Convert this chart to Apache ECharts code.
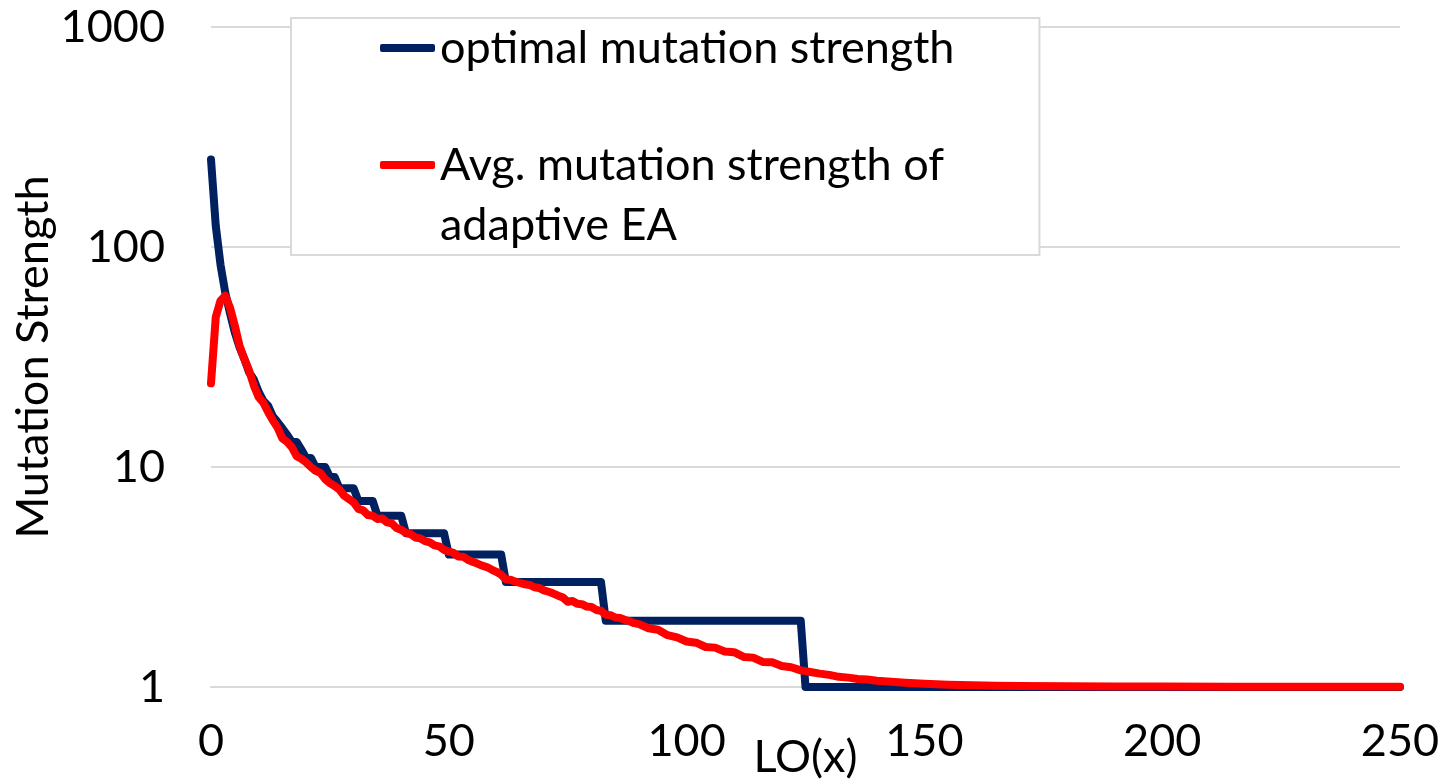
<!DOCTYPE html>
<html>
<head>
<meta charset="utf-8">
<script src="https://cdn.jsdelivr.net/npm/echarts@6/dist/echarts.min.js"></script>
<style>
  html, body { margin: 0; padding: 0; background: #fff; }
  #chart { width: 1439px; height: 781px; }
</style>
</head>
<body>
<div id="chart"></div>
<script>
// Optimal mutation strength: step function over LO(x), given at its breakpoints
const optLO  = [0,1,2,3,4,5,6,7,8,9,10,11,12,13,14,15,16,17,18,19,20,21,22,24,25,26,27,30,31,34,35,40,41,49,50,61,62,82,83,124,125,250];
const optVal = [250,125,83,62,50,41,35,31,27,25,22,20,19,17,16,15,14,13,13,12,11,11,10,10,9,9,8,8,7,7,6,6,5,5,4,4,3,3,2,2,1,1];

// Average mutation strength observed for the adaptive EA
const avgLO = [0,1,2,3,4,5,6,7,8,9,10,11,12,13,14,15,16,17,18,19,20,21,22,23,24,25,26,27,28,29,30,
  31,32,33,34,35,36,37,38,39,40,41,42,43,44,45,46,47,48,49,50,51,52,53,54,55,56,57,58,59,60,
  61,62,63,64,65,66,67,68,69,70,71,72,73,74,75,76,77,78,79,80,81,82,83,84,85,86,87,88,89,90,
  92,94,96,98,100,102,104,106,108,110,112,114,116,118,120,122,124,126,128,130,132,134,136,138,140,
  143,146,150,155,160,165,170,180,190,200,215,230,250];
const avgVal = [24,48,57,60,53,44,35.5,31,27.5,23.5,20.8,19.6,17.8,16.3,15.1,13.5,13.0,12.3,11.2,10.9,10.5,10.0,9.6,9.4,8.8,8.45,8.2,7.9,7.4,7.15,6.9,
  6.45,6.35,6.05,6.0,5.8,5.84,5.6,5.55,5.28,5.18,5.02,4.95,4.78,4.74,4.6,4.54,4.4,4.36,4.2,4.13,4.07,3.92,3.91,3.79,3.71,3.64,3.56,3.51,3.42,3.34,
  3.24,3.08,3.07,3.01,2.97,2.93,2.91,2.84,2.82,2.75,2.71,2.66,2.6,2.55,2.44,2.46,2.39,2.38,2.32,2.31,2.24,2.22,2.13,2.12,2.07,2.06,2.02,1.99,1.95,1.93,
  1.85,1.82,1.72,1.68,1.61,1.59,1.52,1.51,1.45,1.44,1.37,1.36,1.3,1.295,1.245,1.23,1.19,1.17,1.15,1.135,1.112,1.103,1.088,1.082,1.068,
  1.056,1.045,1.035,1.025,1.018,1.013,1.01,1.007,1.005,1.004,1.003,1.002,1.002];

const xTicks = { min: 0, max: 250, step: 50 };
const nameOpt = 'optimal mutation strength';
const nameAvg = 'Avg. mutation strength of adaptive EA';

const FONT = 'Lato, "Open Sans", sans-serif';
const GRID = '#d9d9d9';

const chart = echarts.init(document.getElementById('chart'), null, { renderer: 'canvas' });

chart.setOption({
  backgroundColor: '#fff',
  animation: false,
  textStyle: { fontFamily: FONT },
  grid: { left: 211, right: 39, top: 27, bottom: 94, containLabel: false, outerBoundsMode: 'none' },
  legend: {
    orient: 'vertical',
    left: 291,
    top: 18,
    padding: [0, 85, 0, 89],
    itemGap: -3,
    itemWidth: 55,
    itemHeight: 8,
    icon: 'roundRect',
    backgroundColor: '#fff',
    borderColor: GRID,
    borderWidth: 2,
    selectedMode: false,
    textStyle: { fontSize: 45, fontFamily: FONT, color: '#000', lineHeight: 60 },
    formatter: function (name) {
      return name === nameAvg ? '\nAvg. mutation strength of\nadaptive EA' : name;
    },
    data: [nameOpt, nameAvg]
  },
  xAxis: {
    type: 'value',
    min: xTicks.min,
    max: xTicks.max,
    interval: xTicks.step,
    name: 'LO(x)',
    nameLocation: 'middle',
    nameGap: 48,
    nameMoveOverlap: false,
    nameTextStyle: { fontSize: 45, color: '#000', fontFamily: FONT },
    axisLine: { show: true, lineStyle: { color: GRID, width: 2 } },
    axisTick: { show: false },
    splitLine: { show: false },
    axisLabel: { fontSize: 45, color: '#000', margin: 32, fontFamily: FONT }
  },
  yAxis: {
    type: 'log',
    logBase: 10,
    min: 1,
    max: 1000,
    name: 'Mutation Strength',
    nameLocation: 'middle',
    nameGap: 155,
    nameMoveOverlap: false,
    nameTextStyle: { fontSize: 45, color: '#000', fontFamily: FONT },
    axisLine: { show: false },
    axisTick: { show: false },
    splitLine: { show: true, lineStyle: { color: GRID, width: 2 } },
    axisLabel: { fontSize: 45, color: '#000', margin: 46, fontFamily: FONT, formatter: v => String(Math.round(v)) }
  },
  series: [
    {
      name: nameOpt,
      type: 'line',
      data: optLO.map((x, i) => [x, optVal[i]]),
      showSymbol: false,
      symbol: 'none',
      color: '#002060',
      lineStyle: { color: '#002060', width: 8, cap: 'round', join: 'round' },
      z: 2
    },
    {
      name: nameAvg,
      type: 'line',
      data: avgLO.map((x, i) => [x, avgVal[i]]),
      showSymbol: false,
      symbol: 'none',
      color: '#ff0000',
      lineStyle: { color: '#ff0000', width: 8, cap: 'round', join: 'round' },
      z: 3
    }
  ]
});
</script>
</body>
</html>
